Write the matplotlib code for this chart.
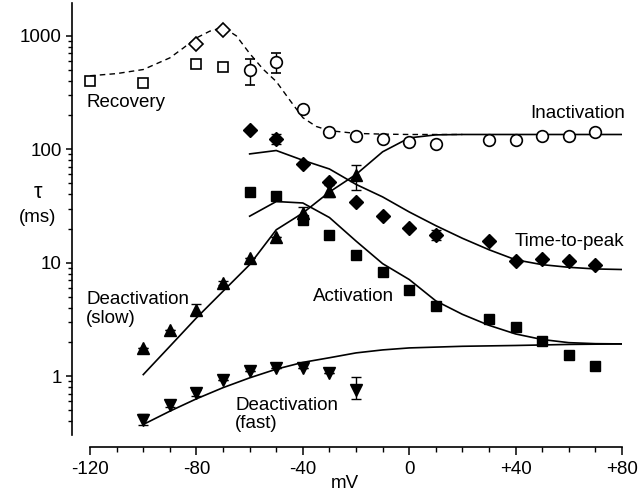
import matplotlib
matplotlib.use("Agg")
import matplotlib.pyplot as plt
import numpy as np

plt.rcParams['font.family'] = ['Liberation Sans', 'DejaVu Sans']

# measured points (mV, tau in ms)
rec_sq_x = [-120, -100, -80, -70]
rec_sq_y = [402, 388, 562, 537]
rec_dia_x = [-80, -70]
rec_dia_y = [845, 1130]

inact_x = [-60, -50, -40, -30, -20, -10, 0, 10, 30, 40, 50, 60, 70]
inact_y = [502, 594, 226, 143, 130, 123, 116, 111, 121, 121, 130, 130, 143]
inact_lo = [370, 475, 226, 143, 130, 123, 116, 111, 121, 121, 130, 130, 143]
inact_hi = [624, 713, 226, 143, 130, 123, 116, 111, 121, 121, 130, 130, 143]

ttp_x = [-60, -50, -40, -30, -20, -10, 0, 10, 30, 40, 50, 60, 70]
ttp_y = [149, 123, 74, 51, 34.3, 25.7, 20.2, 17.7, 15.4, 10.3, 10.8, 10.3, 9.6]
ttp_lo = [149, 112, 74, 51, 34.3, 25.7, 20.2, 15.8, 15.4, 10.3, 10.8, 10.3, 9.6]
ttp_hi = [149, 135, 74, 51, 34.3, 25.7, 20.2, 19.6, 15.4, 10.3, 10.8, 10.3, 9.6]

act_x = [-60, -50, -40, -30, -20, -10, 0, 10, 30, 40, 50, 60, 70]
act_y = [42, 39, 24, 17.7, 11.8, 8.2, 5.7, 4.18, 3.2, 2.71, 2.03, 1.52, 1.22]

slow_x = [-100, -90, -80, -70, -60, -50, -40, -30, -20]
slow_y = [1.77, 2.57, 3.85, 6.6, 10.9, 16.7, 27.6, 43, 59.6]
slow_lo = [1.77, 2.57, 3.45, 6.3, 10.9, 16.7, 23.5, 38, 44]
slow_hi = [1.77, 2.57, 4.35, 6.9, 10.9, 16.7, 31, 48, 73]

fast_x = [-100, -90, -80, -70, -60, -50, -40, -30, -20]
fast_y = [0.41, 0.56, 0.71, 0.93, 1.10, 1.18, 1.18, 1.07, 0.76]
fast_lo = [0.37, 0.53, 0.67, 0.93, 1.10, 1.18, 1.18, 1.07, 0.63]
fast_hi = [0.46, 0.60, 0.76, 0.93, 1.10, 1.18, 1.18, 1.07, 0.98]

# fitted curves
rec_fit_x = [-120, -110, -100, -90, -85, -80, -75, -70, -65, -60, -55, -50, -45, -40, -35, -30, -20, -10, 0, 10, 20]
rec_fit_y = [445, 465, 505, 640, 780, 960, 1100, 1190, 1000, 700, 510, 396, 273, 190, 159, 146, 138, 136, 135, 135, 135]

inact_fit_x = [-100, -90, -80, -70, -60, -50, -40, -30, -20, -10, 0, 10, 20, 40, 60, 80]
inact_fit_y = [1.03, 1.83, 3.26, 5.6, 9.6, 19.5, 27.4, 42, 60, 95, 126, 134, 135, 135, 135, 135]

ttp_fit_x = [-60, -50, -40, -30, -20, -10, 0, 10, 20, 30, 40, 50, 60, 70, 80]
ttp_fit_y = [91, 97.5, 80, 67, 49, 38, 28, 21.2, 16.4, 13, 10.6, 9.6, 9.1, 8.8, 8.7]

act_fit_x = [-60, -50, -40, -30, -20, -10, 0, 10, 20, 30, 40, 50, 60, 70, 80]
act_fit_y = [25.7, 34.6, 33.6, 25, 15.5, 9.8, 7.1, 4.6, 3.5, 2.8, 2.35, 2.1, 1.97, 1.93, 1.92]

fast_fit_x = [-100, -90, -80, -70, -60, -50, -40, -30, -20, -10, 0, 20, 40, 60, 80]
fast_fit_y = [0.374, 0.49, 0.63, 0.79, 0.964, 1.15, 1.32, 1.45, 1.6, 1.7, 1.77, 1.83, 1.86, 1.9, 1.92]

xticks = [-120, -80, -40, 0, 40, 80]
xticklabels = ['-120', '-80', '-40', '0', '+40', '+80']
yticks = [1, 10, 100, 1000]
yticklabels = ['1', '10', '100', '1000']


def err(y, lo, hi):
    y = np.array(y)
    return [y - np.array(lo), np.array(hi) - y]


fig = plt.figure(figsize=(6.4, 4.96), dpi=100)
ax = fig.add_axes([72 / 640, 61 / 496, 550 / 640, 432 / 496])
ax.set_yscale('log')
ax.set_xlim(-126.8, 80)
ax.set_ylim(0.302, 1950)

k = 'black'
ax.plot(rec_fit_x, rec_fit_y, '--', color=k, lw=1.0, dashes=(4, 3))
ax.plot(inact_fit_x, inact_fit_y, '-', color=k, lw=1.2)
ax.plot(ttp_fit_x, ttp_fit_y, '-', color=k, lw=1.2)
ax.plot(act_fit_x, act_fit_y, '-', color=k, lw=1.2)
ax.plot(fast_fit_x, fast_fit_y, '-', color=k, lw=1.2)

ms = 7.8
ebk = dict(ecolor=k, elinewidth=1.0, capsize=3.5, linestyle='none')
ax.plot(rec_sq_x, rec_sq_y, 's', mfc='white', mec=k, mew=1.2, ms=ms)
ax.plot(rec_dia_x, rec_dia_y, 'D', mfc='white', mec=k, mew=1.2, ms=ms - 1)
ax.errorbar(inact_x, inact_y, yerr=err(inact_y, inact_lo, inact_hi), fmt='o',
            mfc='white', mec=k, mew=1.2, ms=ms + 0.6, **ebk)
ax.errorbar(ttp_x, ttp_y, yerr=err(ttp_y, ttp_lo, ttp_hi), fmt='D',
            mfc=k, mec=k, ms=ms - 0.6, **ebk)
ax.plot(act_x, act_y, 's', mfc=k, mec=k, ms=ms)
ax.errorbar(slow_x, slow_y, yerr=err(slow_y, slow_lo, slow_hi), fmt='^',
            mfc=k, mec=k, ms=ms + 0.6, **ebk)
ax.errorbar(fast_x, fast_y, yerr=err(fast_y, fast_lo, fast_hi), fmt='v',
            mfc=k, mec=k, ms=ms + 0.6, **ebk)

fs = 13.5
ax.text(-121.5, 256, 'Recovery', fontsize=fs, va='center', ha='left')
ax.text(81, 205, 'Inactivation', fontsize=fs, va='center', ha='right')
ax.text(81, 15.5, 'Time-to-peak', fontsize=fs, va='center', ha='right')
ax.text(-36.2, 5.07, 'Activation', fontsize=fs, va='center', ha='left')
ax.text(-121.5, 3.9, 'Deactivation\n(slow)', fontsize=fs, va='center', ha='left', linespacing=1.1)
ax.text(-65.5, 0.46, 'Deactivation\n(fast)', fontsize=fs, va='center', ha='left', linespacing=1.1)

ax.spines['top'].set_visible(False)
ax.spines['right'].set_visible(False)
ax.spines['left'].set_linewidth(1.2)
ax.spines['bottom'].set_linewidth(1.2)
ax.spines['bottom'].set_position(('outward', 8.6))
ax.spines['bottom'].set_bounds(-120, 80)

ax.set_xticks(xticks)
ax.set_xticklabels(xticklabels)
ax.set_xticks(np.arange(-120, 81, 10), minor=True)
ax.set_yticks(yticks)
ax.set_yticklabels(yticklabels)
ax.tick_params(axis='both', which='major', labelsize=fs, width=1.1, color=k)
ax.tick_params(axis='y', which='major', length=4.5, pad=3)
ax.tick_params(axis='y', which='minor', length=3, width=1.0)
ax.tick_params(axis='x', which='major', length=6, pad=4)
ax.tick_params(axis='x', which='minor', length=3.5, width=1.0)

fig.text(38 / 640, 1 - 192 / 496, 'τ', fontsize=fs + 2, ha='center', va='center')
fig.text(38 / 640, 1 - 218 / 496, '(ms)', fontsize=fs, ha='center', va='center')
fig.text(345 / 640, 1 - 484 / 496, 'mV', fontsize=fs, ha='center', va='center')

fig.savefig('out.png', dpi=100)
